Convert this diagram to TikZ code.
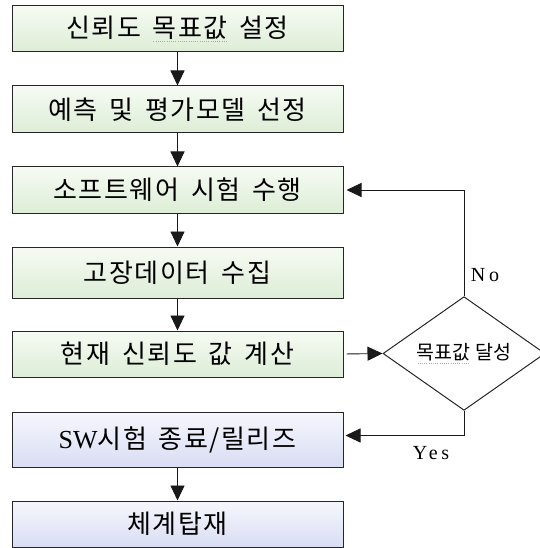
\documentclass[tikz,border=0pt]{standalone}
\usepackage{fontspec}
\setmainfont{Liberation Serif}
\newfontfamily\krfont{Noto Sans CJK KR}[LetterSpace=6,WordSpace=1.6]
\newfontfamily\krsmall{Noto Sans CJK KR}
\newfontfamily\latinsp{Liberation Serif}[LetterSpace=18]
\usetikzlibrary{arrows.meta,shapes.geometric,calc}
\definecolor{gtop}{HTML}{F6FBF3}
\definecolor{gbot}{HTML}{DDEDD6}
\definecolor{btop}{HTML}{F6F7FD}
\definecolor{bbot}{HTML}{D9DDF3}
\definecolor{spellc}{HTML}{EE9A50}
\newsavebox\spellbox
\newcommand\spellmark[1]{\sbox\spellbox{#1}\rlap{\usebox\spellbox}\raisebox{-3.5pt}{\color{spellc}\makebox[\wd\spellbox]{\leaders\hbox to 2.2pt{\hss\rule{1pt}{0.6pt}\hss}\hfill}}}
\tikzset{
  box/.style={draw=black!85, line width=1pt, minimum width=331pt, inner sep=0pt,
    font=\krfont\fontsize{26}{28}\selectfont},
  gbox/.style={box, top color=gtop, bottom color=gbot},
  bbox/.style={box, top color=btop, bottom color=bbot},
  decide/.style={diamond, draw=black!85, line width=1pt, fill=white, inner sep=0pt,
    minimum width=162pt, minimum height=109pt, font=\krsmall\fontsize{19.5}{21}\selectfont},
  arr/.style={draw=black!90, line width=0.9pt, -{Triangle[length=15pt,width=14pt]}},
  lbl/.style={font=\latinsp\fontsize{20}{22}\selectfont, inner sep=0pt}
}
\begin{document}
\begin{tikzpicture}[x=1pt,y=-1pt]
\useasboundingbox (0,0) rectangle (539,548);
\fill[white] (0,0) rectangle (539,548);
\node[gbox, minimum height=46pt] (b1) at (177.5,29) {신뢰도 \spellmark{목표값} 설정};
\node[gbox, minimum height=47pt] (b2) at (177.5,109.5) {예측 및 평가모델 선정};
\node[gbox, minimum height=46pt] (b3) at (177.5,190) {소프트웨어 시험 수행};
\node[gbox, minimum height=51pt] (b4) at (177.5,272.5) {고장데이터 수집};
\node[gbox, minimum height=46pt] (b5) at (177.5,354) {현재 신뢰도 값 계산};
\node[bbox, minimum height=55pt] (b6) at (177.5,439.5) {{\rmfamily\fontsize{26}{28}\selectfont SW}시험 종료/릴리즈};
\node[bbox, minimum height=46pt] (b7) at (177.5,524) {체계탑재};
\node[decide] (dia) at (464,353.5) {\spellmark{목표값} 달성};
\draw[arr] (b1.south) -- (b2.north);
\draw[arr] (b2.south) -- (b3.north);
\draw[arr] (b3.south) -- (b4.north);
\draw[arr] (b4.south) -- (b5.north);
\draw[arr] (b6.south) -- (b7.north);
\draw[arr, shorten <=3pt] (b5.east) -- (dia.west);
\draw[arr, shorten >=3pt] (dia.north) |- (b3.east);
\draw[arr, shorten >=2pt] (dia.south) |- ($(b6.east)+(0,-4)$);
\node[lbl] (no) at (485,275) {No};
\node[lbl] (yes) at (431,453) {Yes};
\end{tikzpicture}
\end{document}
